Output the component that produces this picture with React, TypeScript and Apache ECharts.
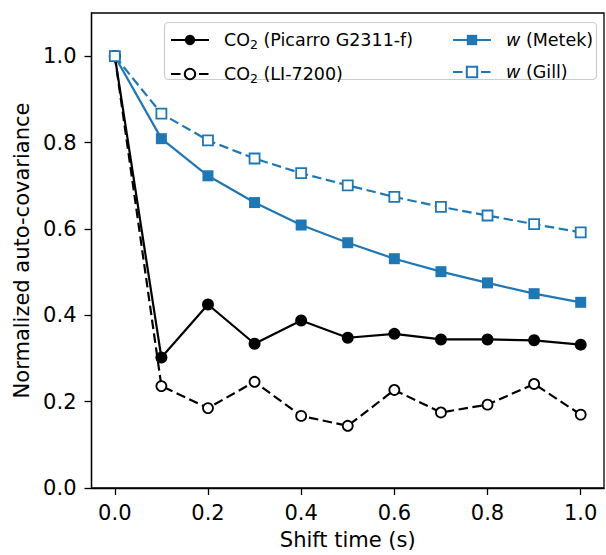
import React, { useEffect, useRef } from "react";
import * as echarts from "echarts";

const shiftTime = [0.0, 0.1, 0.2, 0.3, 0.4, 0.5, 0.6, 0.7, 0.8, 0.9, 1.0];
const co2Picarro = [1.0, 0.302, 0.425, 0.334, 0.388, 0.348, 0.357, 0.344, 0.344, 0.342, 0.332];
const co2Licor = [1.0, 0.236, 0.185, 0.246, 0.167, 0.144, 0.227, 0.175, 0.193, 0.241, 0.17];
const wMetek = [1.0, 0.809, 0.723, 0.661, 0.609, 0.568, 0.531, 0.501, 0.475, 0.45, 0.43];
const wGill = [1.0, 0.867, 0.805, 0.763, 0.729, 0.701, 0.674, 0.651, 0.631, 0.611, 0.592];
const xTicks = [0.0, 0.2, 0.4, 0.6, 0.8, 1.0];
const yTicks = [0.0, 0.2, 0.4, 0.6, 0.8, 1.0];

const names = {
  picarro: "CO2 (Picarro G2311-f)",
  licor: "CO2 (LI-7200)",
  metek: "w (Metek)",
  gill: "w (Gill)",
};

const richLabels: Record<string, string> = {
  [names.picarro]: "{t|CO}{s|2}{t| (Picarro G2311-f)}",
  [names.licor]: "{t|CO}{s|2}{t| (LI-7200)}",
  [names.metek]: "{i|w}{t| (Metek)}",
  [names.gill]: "{i|w}{t| (Gill)}",
};

const FONT = "DejaVu Sans";
const BLUE = "#1f77b4";

function pairs(ys: number[]) {
  return shiftTime.map((x, i) => [x, ys[i]]);
}

export default function App() {
  const ref = useRef<HTMLDivElement>(null);
  useEffect(() => {
    document.body.style.margin = "0";
    const chart = echarts.init(ref.current!, null, { renderer: "svg" });
    const legendText = {
      fontFamily: FONT,
      fontSize: 17.5,
      color: "#000",
      padding: [0, 0, 0, 10],
      rich: {
        t: { fontFamily: FONT, fontSize: 17.5, color: "#000" },
        s: { fontFamily: FONT, fontSize: 12.5, color: "#000", padding: [9, 0, 0, 0] },
        i: { fontFamily: FONT, fontSize: 17.5, color: "#000", fontStyle: "italic" },
      },
    };
    const legendCommon = {
      orient: "vertical",
      top: 31,
      padding: 0,
      itemWidth: 38,
      itemHeight: 13,
      itemGap: 14,
      formatter: (n: string) => richLabels[n] || n,
      textStyle: legendText,
      z: 5,
    };
    const axisLabelStyle = { fontFamily: FONT, fontSize: 21, color: "#000" };
    const axisLine = { show: true, onZero: false, lineStyle: { color: "#000", width: 1.3 } };
    chart.setOption({
      animation: false,
      backgroundColor: "#fff",
      grid: {
        left: 91.5,
        top: 13,
        width: 512.5,
        height: 479,
        show: true,
        borderColor: "#000",
        borderWidth: 1.3,
        backgroundColor: "transparent",
        containLabel: false,
      },
      graphic: [
        {
          type: "rect",
          z: 3,
          shape: { x: 164.5, y: 22.5, width: 432, height: 57, r: 4 },
          style: { fill: "rgba(255,255,255,0.8)", stroke: "#cccccc", lineWidth: 1.2 },
        },
      ],
      legend: [
        { ...legendCommon, left: 170, data: [names.picarro, names.licor] },
        { ...legendCommon, left: 452, data: [names.metek, names.gill] },
      ],
      xAxis: {
        type: "value",
        min: -0.05,
        max: 1.05,
        name: "Shift time (s)",
        nameLocation: "middle",
        nameGap: 41,
        nameTextStyle: axisLabelStyle,
        axisLine,
        splitLine: { show: false },
        axisTick: { show: true, length: 7, lineStyle: { color: "#000", width: 1.3 }, customValues: xTicks },
        axisLabel: { ...axisLabelStyle, margin: 14, customValues: xTicks, formatter: (v: number) => v.toFixed(1) },
      },
      yAxis: {
        type: "value",
        min: 0,
        max: 1.1,
        name: "Normalized auto-covariance",
        nameLocation: "middle",
        nameGap: 51,
        nameTextStyle: axisLabelStyle,
        axisLine,
        splitLine: { show: false },
        axisTick: { show: true, length: 7, lineStyle: { color: "#000", width: 1.3 }, customValues: yTicks },
        axisLabel: { ...axisLabelStyle, margin: 15, customValues: yTicks, formatter: (v: number) => v.toFixed(1) },
      },
      series: [
        {
          name: names.picarro,
          type: "line",
          data: pairs(co2Picarro),
          color: "#000",
          symbol: "circle",
          symbolSize: 12,
          lineStyle: { color: "#000", width: 2.2 },
          itemStyle: { color: "#000", borderWidth: 0 },
        },
        {
          name: names.licor,
          type: "line",
          data: pairs(co2Licor),
          color: "#000",
          symbol: "circle",
          symbolSize: 10,
          lineStyle: { color: "#000", width: 2.2, type: [9.5, 4.5] },
          itemStyle: { color: "#fff", borderColor: "#000", borderWidth: 1.8 },
        },
        {
          name: names.metek,
          type: "line",
          data: pairs(wMetek),
          color: BLUE,
          symbol: "rect",
          symbolSize: 11,
          lineStyle: { color: BLUE, width: 2.2 },
          itemStyle: { color: BLUE, borderWidth: 0 },
        },
        {
          name: names.gill,
          type: "line",
          data: pairs(wGill),
          color: BLUE,
          symbol: "rect",
          symbolSize: 10,
          lineStyle: { color: BLUE, width: 2.2, type: [9.5, 4.5] },
          itemStyle: { color: "#fff", borderColor: BLUE, borderWidth: 1.8 },
        },
      ],
    });
    return () => chart.dispose();
  }, []);
  return <div ref={ref} style={{ width: 606, height: 555 }} />;
}
